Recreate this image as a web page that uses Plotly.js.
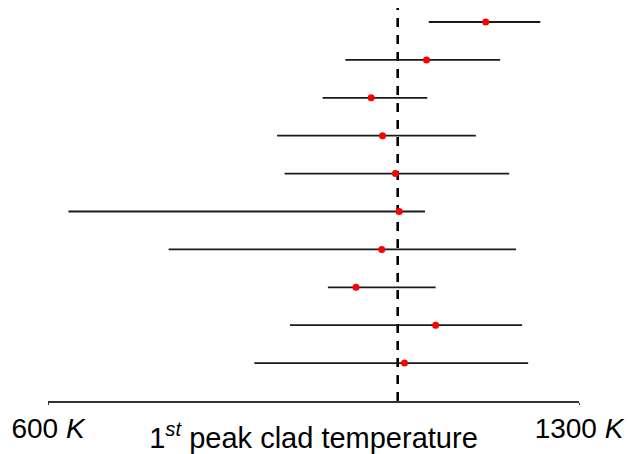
<!DOCTYPE html>
<html>
<head>
<meta charset="utf-8">
<script src="https://cdn.plot.ly/plotly-3.0.1.min.js"></script>
<style>html,body{margin:0;padding:0;background:#fff;}#chart{width:629px;height:454px;}</style>
</head>
<body>
<div id="chart"></div>
<script>
// Rows listed top to bottom
var rowPos = [10, 9, 8, 7, 6, 5, 4, 3, 2, 1];
var lowK   = [1102, 992, 962, 902, 912, 627, 759, 969, 919, 872];
var highK  = [1249, 1196, 1100, 1164, 1208, 1097, 1217, 1111, 1225, 1233];
var peakK  = [1177, 1099, 1026, 1041, 1058, 1063, 1040, 1006, 1111, 1070];
var referenceK = 1061;
var xRange = [600, 1300];
var tickVals = [600, 1300];
var tickText = ['600 <i>K</i>', '1300 <i>K</i>'];
var axisTitle = '1<sup><i>st</i></sup> peak clad temperature';

var yTop = 10.37;
var plus = peakK.map(function (v, i) { return highK[i] - v; });
var minus = peakK.map(function (v, i) { return v - lowK[i]; });

var traces = [
  {
    type: 'scatter', mode: 'lines',
    x: [referenceK, referenceK], y: [0, yTop],
    line: {color: '#000', width: 2.6, dash: '9px,8px'},
    hoverinfo: 'skip', showlegend: false
  },
  {
    type: 'scatter', mode: 'markers',
    x: peakK, y: rowPos,
    marker: {color: '#ff0000', size: 7},
    error_x: {type: 'data', symmetric: false, array: plus, arrayminus: minus,
              color: '#1a1a1a', thickness: 1.8, width: 0},
    showlegend: false
  }
];

var layout = {
  width: 629, height: 454,
  margin: {l: 48, r: 50, t: 8, b: 53},
  paper_bgcolor: '#fff', plot_bgcolor: '#fff',
  font: {family: 'Liberation Sans, Arial, sans-serif', size: 28, color: '#000'},
  showlegend: false,
  xaxis: {
    range: xRange, tickvals: tickVals, ticktext: tickText,
    showgrid: false, zeroline: false, showline: true,
    linecolor: '#333', linewidth: 1.5,
    ticks: 'outside', ticklen: 2, tickcolor: '#333',
    tickfont: {size: 28, color: '#000'},
    title: {text: axisTitle, font: {size: 29, color: '#000'}, standoff: 0},
    automargin: false
  },
  yaxis: {
    range: [0, yTop], visible: false, showgrid: false, zeroline: false
  }
};

Plotly.newPlot('chart', traces, layout, {displayModeBar: false, staticPlot: true});
</script>
</body>
</html>
